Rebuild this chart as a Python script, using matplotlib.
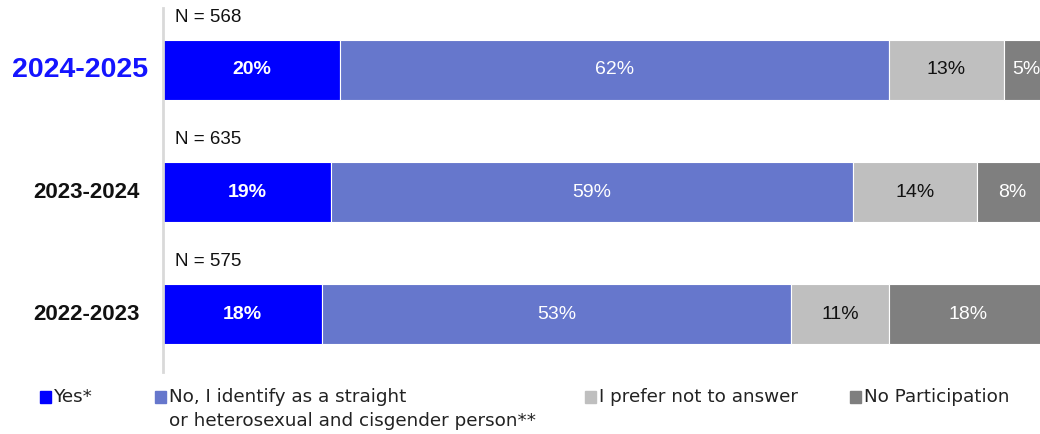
import matplotlib
matplotlib.use('Agg')
import matplotlib.pyplot as plt
from matplotlib.patches import Rectangle

# data
years = ['2024-2025', '2023-2024', '2022-2023']
n_resp = [568, 635, 575]
yes = [20, 19, 18]
no = [62, 59, 53]
prefer_not = [13, 14, 11]
no_part = [5, 8, 18]
series_names = ['Yes*', 'No, I identify as a straight\nor heterosexual and cisgender person**',
                'I prefer not to answer', 'No Participation']

colors = ['#0000FF', '#6677CC', '#BFBFBF', '#7F7F7F']
label_colors = ['white', 'white', '#111111', 'white']
label_weights = ['bold', 'normal', 'normal', 'normal']

plt.rcParams['font.family'] = ['Liberation Sans', 'DejaVu Sans']

W, H = 1040, 434
fig = plt.figure(figsize=(W / 100, H / 100), dpi=100)
ax = fig.add_axes([163 / W, 1 - 372 / H, 885 / W, 364 / H])
ax.set_xlim(0, 100)
ax.set_ylim(2.475, -0.508)

series = [yes, no, prefer_not, no_part]
left = [0] * len(years)
for k, vals in enumerate(series):
    ax.barh(range(len(years)), vals, left=left, height=0.49, color=colors[k],
            edgecolor='white', linewidth=0.8)
    for i, v in enumerate(vals):
        ax.text(left[i] + v / 2, i, f'{v}%', ha='center', va='center', fontsize=14,
                color=label_colors[k], fontweight=label_weights[k])
    left = [l + v for l, v in zip(left, vals)]

for i, (yr, n) in enumerate(zip(years, n_resp)):
    ax.text(1.3, i - 0.43, f'N = {n}', ha='left', va='center', fontsize=13.5, color='#111111')
    if i == 0:
        ax.text(-1.7, i, yr, ha='right', va='center', fontsize=20.5, fontweight='bold', color='#1414FF')
    else:
        ax.text(-2.6, i, yr, ha='right', va='center', fontsize=16, fontweight='bold', color='#111111')

for s in ['top', 'right', 'bottom']:
    ax.spines[s].set_visible(False)
ax.spines['left'].set_color('#D9D9D9')
ax.spines['left'].set_linewidth(2)
ax.set_xticks([])
ax.set_yticks([])

# legend, drawn by hand so the two-line label keeps its square on the first line
leg_x = [40, 155, 585, 850]
leg_y = 397
for k, name in enumerate(series_names):
    fig.add_artist(Rectangle((leg_x[k] / W, 1 - (leg_y + 6) / H), 11 / W, 12 / H,
                             transform=fig.transFigure, color=colors[k]))
    fig.text((leg_x[k] + 14) / W, 1 - (leg_y - 9) / H, name, ha='left', va='top',
             fontsize=13.2, family=['DejaVu Sans'], color='#222222', linespacing=1.45)

fig.savefig('out.png', dpi=100)
